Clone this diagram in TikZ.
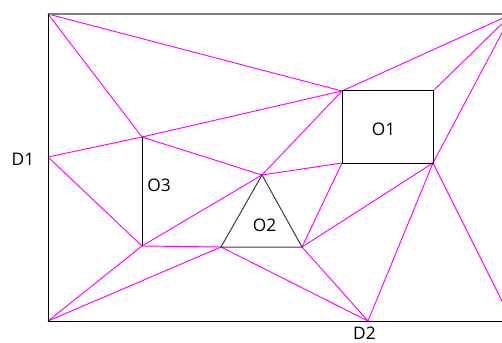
\documentclass[tikz,border=0pt]{standalone}
\usepackage{fontspec}
\setmainfont{Open Sans}

\tikzset{
  edge/.style={draw={rgb,255:red,255;green,0;blue,255}, line width=0.7pt},
  obst/.style={draw=black, line width=0.75pt},
  lbl/.style={inner sep=0pt, font=\fontsize{13}{15}\selectfont}
}

\begin{document}
\begin{tikzpicture}[x=0.75pt,y=0.75pt,yscale=-1,xscale=1]
\useasboundingbox (0,0) rectangle (502,342);
\clip (0,0) rectangle (502,342);

% corners of the field
\coordinate (tl) at (48,14);
\coordinate (tr) at (512,14);
\coordinate (bl) at (48,321);
\coordinate (br) at (512,321);
\coordinate (d1) at (48,157);
\coordinate (d2) at (368,321);
% obstacle O1
\coordinate (a1) at (342,91);
\coordinate (b1) at (433,91);
\coordinate (c1) at (433,163);
\coordinate (e1) at (342,163);
% obstacle O2
\coordinate (a2) at (262,175);
\coordinate (b2) at (221,247);
\coordinate (c2) at (302,247);
% obstacle O3
\coordinate (a3) at (142,137);
\coordinate (b3) at (142,246);

%Magenta edges
\draw [edge] (tl) -- (a1) ;
\draw [edge] (tl) -- (a3) ;
\draw [edge] (d1) -- (a3) ;
\draw [edge] (d1) -- (b3) ;
\draw [edge] (a3) -- (a1) ;
\draw [edge] (a3) -- (a2) ;
\draw [edge] (b3) -- (a2) ;
\draw [edge] (b3) -- (b2) ;
\draw [edge] (bl) -- (b3) ;
\draw [edge] (bl) -- (b2) ;
\draw [edge] (b2) -- (d2) ;
\draw [edge] (a2) -- (a1) ;
\draw [edge] (a2) -- (e1) ;
\draw [edge] (c2) -- (e1) ;
\draw [edge] (c2) -- (c1) ;
\draw [edge] (c2) -- (d2) ;
\draw [edge] (d2) -- (c1) ;
\draw [edge] (c1) -- (br) ;
\draw [edge] (tr) -- (a1) ;
\draw [edge] (tr) -- (b1) ;
\draw [edge] (tr) -- (c1) ;

%Field border
\draw [draw={rgb,255:red,128;green,128;blue,128}, line width=1.2pt] (tl) -- (tr) ;
\draw [obst] (tl) -- (bl) -- (br) ;

%Obstacles
\draw [obst] (a1) -- (b1) -- (c1) -- (e1) -- cycle ;
\draw [obst, draw={rgb,255:red,60;green,60;blue,60}] (a2) -- (b2) -- (c2) -- cycle ;
\draw [obst] (a3) -- (b3) ;

% Text Node
\draw (383.5,129) node[lbl] (o1lbl) {O1};
% Text Node
\draw (264.5,225) node[lbl] (o2lbl) {O2};
% Text Node
\draw (159,185) node[lbl] (o3lbl) {O3};
% Text Node
\draw (23,159) node[lbl] (d1lbl) {D1};
% Text Node
\draw (364.5,333) node[lbl] (d2lbl) {D2};

\end{tikzpicture}
\end{document}
